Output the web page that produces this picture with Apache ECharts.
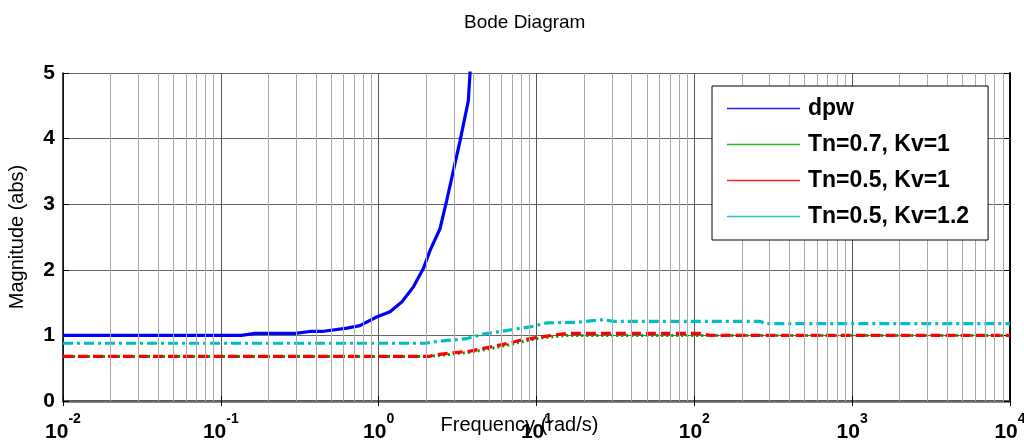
<!DOCTYPE html>
<html>
<head>
<meta charset="utf-8">
<script src="https://cdn.jsdelivr.net/npm/echarts@6/dist/echarts.min.js"></script>
<style>
  html, body { margin: 0; padding: 0; background: #fff; }
  #bode { width: 1024px; height: 445px; }
</style>
</head>
<body>
<div id="bode"></div>
<script>
// values
let seriesNames = ['dpw', 'Tn=0.7, Kv=1', 'Tn=0.5, Kv=1', 'Tn=0.5, Kv=1.2'];

let dpwFreq = [0.01, 0.135, 0.165, 0.295, 0.367, 0.436, 0.63, 0.76, 0.97, 1.18, 1.4, 1.66, 1.92, 2.12, 2.45, 2.70, 2.91, 3.28, 3.70, 3.79, 3.9];
let dpwMag  = [1.0, 1.0, 1.03, 1.03, 1.06, 1.06, 1.11, 1.15, 1.28, 1.36, 1.51, 1.74, 2.02, 2.30, 2.63, 3.06, 3.41, 3.97, 4.58, 4.99, 5.6];

let tn07Freq = [0.01, 2.1, 2.8, 3.8, 4.8, 6.5, 7.9, 10.5, 15.5, 10000];
let tn07Mag  = [0.68, 0.68, 0.71, 0.745, 0.785, 0.85, 0.90, 0.96, 1.0, 1.0];

let tn05Freq = [0.01, 2.1, 2.22, 2.83, 3.8, 4.8, 6.5, 7.9, 10.5, 15.5, 109, 126, 10000];
let tn05Mag  = [0.68, 0.68, 0.70, 0.73, 0.76, 0.81, 0.875, 0.925, 0.975, 1.03, 1.03, 1.0, 1.0];

let kv12Freq = [0.01, 2.0, 2.2, 3.6, 4.6, 7.1, 9.6, 11.6, 18, 26.5, 30.7, 145, 261, 281, 10000];
let kv12Mag  = [0.88, 0.88, 0.90, 0.95, 1.02, 1.09, 1.14, 1.19, 1.20, 1.24, 1.215, 1.215, 1.215, 1.18, 1.18];

let freqMin = 0.01;
let freqMax = 10000;
let magMin = 0;
let magMax = 5;

let font = 'Liberation Sans, Arial, sans-serif';

function zip(xs, ys) {
    return xs.map(function (x, i) { return [x, ys[i]]; });
}

// minor grid positions 2..9 in every decade
let minorGrid = [];
for (let n = -2; n < 4; n++) {
    for (let k = 2; k <= 9; k++) {
        minorGrid.push(k * Math.pow(10, n));
    }
}

let dom = document.getElementById('bode');
let myChart = echarts.init(dom);

let option = {
    animation: false,
    backgroundColor: '#fff',
    title: {
        text: 'Bode Diagram',
        left: 459,
        top: 8,
        textStyle: { fontFamily: font, fontSize: 19, fontWeight: 'normal', color: '#000' }
    },
    legend: {
        data: seriesNames,
        orient: 'vertical',
        left: 712,
        top: 86,
        padding: [11, 19, 12, 15],
        itemGap: 13,
        itemWidth: 73,
        itemHeight: 1.5,
        icon: 'rect',
        selectedMode: false,
        backgroundColor: '#fff',
        borderColor: '#000',
        borderWidth: 1,
        textStyle: { fontFamily: font, fontSize: 23, fontWeight: 'bold', color: '#000', padding: [0, 0, 0, 3] },
        z: 10
    },
    grid: { left: 63, right: 14, top: 73, bottom: 44, outerBoundsMode: 'none', containLabel: false },
    xAxis: [
        {
            type: 'log',
            logBase: 10,
            min: freqMin,
            max: freqMax,
            splitNumber: 6,
            name: 'Frequency (rad/s)',
            nameLocation: 'middle',
            nameGap: 14,
            nameMoveOverlap: false,
            nameTextStyle: { fontFamily: font, fontSize: 20, color: '#000', padding: [0, 34, 0, 0] },
            axisLine: { lineStyle: { color: '#000', width: 1.5 } },
            axisTick: { inside: true, length: 5, lineStyle: { color: '#000' } },
            splitLine: { show: true, lineStyle: { color: '#555', width: 1 } },
            axisLabel: {
                margin: 11,
                formatter: function (v) {
                    let e = Math.round(Math.log10(v));
                    return '{b|10}{e|' + e + '}';
                },
                rich: {
                    b: { fontFamily: font, fontSize: 21, fontWeight: 'bold', color: '#000', padding: [10, 0, 0, 0], verticalAlign: 'bottom' },
                    e: { fontFamily: font, fontSize: 14, fontWeight: 'bold', color: '#000', verticalAlign: 'top' }
                }
            }
        },
        {
            type: 'log',
            logBase: 10,
            min: freqMin,
            max: freqMax,
            splitNumber: 6,
            position: 'top',
            axisLine: { lineStyle: { color: '#666', width: 2.5 } },
            axisTick: { inside: true, length: 5, lineStyle: { color: '#000' } },
            axisLabel: { show: false },
            splitLine: { show: false }
        }
    ],
    yAxis: [
        {
            type: 'value',
            min: magMin,
            max: magMax,
            interval: 1,
            name: 'Magnitude (abs)',
            nameLocation: 'middle',
            nameGap: 36,
            nameMoveOverlap: false,
            nameTextStyle: { fontFamily: font, fontSize: 20, color: '#000' },
            axisLine: { show: true, lineStyle: { color: '#000', width: 1.5 } },
            axisTick: { show: true, inside: true, length: 6, lineStyle: { color: '#000' } },
            splitLine: { show: true, lineStyle: { color: '#666', width: 1 } },
            axisLabel: { margin: 8, fontFamily: font, fontSize: 21, fontWeight: 'bold', color: '#000' }
        },
        {
            type: 'value',
            min: magMin,
            max: magMax,
            interval: 1,
            position: 'right',
            axisLine: { show: true, lineStyle: { color: '#000', width: 2 } },
            axisTick: { show: true, inside: true, length: 6, lineStyle: { color: '#000' } },
            axisLabel: { show: false },
            splitLine: { show: false }
        }
    ],
    series: [
        {
            name: 'grid',
            type: 'line',
            data: [],
            silent: true,
            z: 1,
            markLine: {
                silent: true,
                symbol: ['none', 'none'],
                label: { show: false },
                lineStyle: { color: '#aaa', width: 1, type: 'solid' },
                emphasis: { disabled: true },
                data: minorGrid.map(function (v) { return { xAxis: v }; })
            }
        },
        {
            name: seriesNames[0],
            type: 'line',
            data: zip(dpwFreq, dpwMag),
            symbol: 'none',
            clip: true,
            z: 3,
            color: '#2222ff',
            lineStyle: { color: '#0000ff', width: 3.2 }
        },
        {
            name: seriesNames[1],
            type: 'line',
            data: zip(tn07Freq, tn07Mag),
            symbol: 'none',
            z: 3,
            color: '#22bb22',
            lineStyle: { color: '#00a000', width: 3, type: [2, 3] }
        },
        {
            name: seriesNames[2],
            type: 'line',
            data: zip(tn05Freq, tn05Mag),
            symbol: 'none',
            z: 3,
            color: '#ff2222',
            lineStyle: { color: '#ff0000', width: 3.2, type: [10, 5] }
        },
        {
            name: seriesNames[3],
            type: 'line',
            data: zip(kv12Freq, kv12Mag),
            symbol: 'none',
            z: 3,
            color: '#22c4c4',
            lineStyle: { color: '#00bfbf', width: 3.2, type: [10, 4, 3, 4] }
        }
    ]
};

if (option && typeof option === "object") {
    myChart.setOption(option, true);
    window.addEventListener("resize", function () {
        myChart.resize();
    });
}
</script>
</body>
</html>
